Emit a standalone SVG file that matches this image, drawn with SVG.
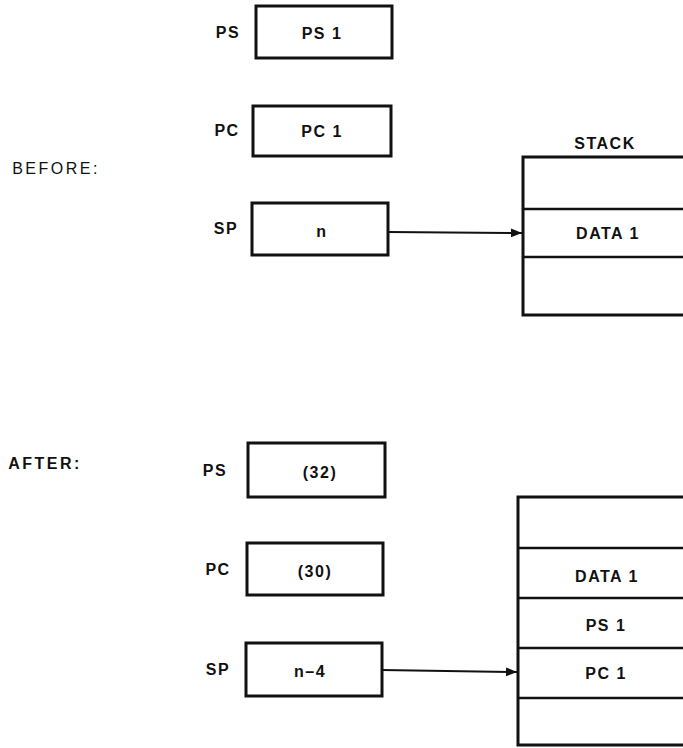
<svg xmlns="http://www.w3.org/2000/svg" width="683" height="748" viewBox="0 0 683 748">
<style>
text{font-family:"Liberation Sans",Arial,sans-serif;font-size:16px;font-weight:bold;fill:#111;text-anchor:middle;dominant-baseline:central;letter-spacing:1.5px}
.box{fill:#fff;stroke:#111;stroke-width:3}
.div{stroke:#111;stroke-width:2.5}
.con{stroke:#111;stroke-width:2;fill:none}
</style>
<defs>
<marker id="ah" viewBox="0 0 10 10" refX="10" refY="5" markerWidth="5.5" markerHeight="5.5" orient="auto" markerUnits="strokeWidth">
<path d="M0,1 L10,5 L0,9 z" fill="#111"/>
</marker>
</defs>
<rect width="683" height="748" fill="#fff"/>
<text x="56" y="168" style="font-weight:normal;letter-spacing:2.5px">BEFORE:</text>
<text x="45" y="463" style="letter-spacing:2.5px">AFTER:</text>

<g id="before-ps"><text x="228" y="32">PS</text><rect class="box" x="256" y="6" width="136" height="52"/><text x="322" y="33">PS 1</text></g>
<g id="before-pc"><text x="227" y="130">PC</text><rect class="box" x="253" y="106" width="138" height="50"/><text x="322" y="131">PC 1</text></g>
<g id="before-sp"><text x="226" y="228">SP</text><rect class="box" x="252" y="203" width="136" height="52"/><text x="322" y="231">n</text></g>
<g id="before-stack">
<text x="605" y="143">STACK</text>
<rect class="box" x="523" y="157" width="200" height="158"/>
<line class="div" x1="523" y1="209" x2="683" y2="209"/>
<line class="div" x1="523" y1="257" x2="683" y2="257"/>
<text x="608" y="233">DATA 1</text>
</g>

<g id="after-ps"><text x="215" y="470">PS</text><rect class="box" x="248" y="443" width="137" height="54"/><text x="320" y="472">(32)</text></g>
<g id="after-pc"><text x="218" y="569">PC</text><rect class="box" x="247" y="543" width="136" height="52"/><text x="315" y="571">(30)</text></g>
<g id="after-sp"><text x="218" y="669">SP</text><rect class="box" x="246" y="643" width="136" height="53"/><text x="310" y="671">n–4</text></g>
<g id="after-stack">
<rect class="box" x="518" y="497" width="200" height="248"/>
<line class="div" x1="518" y1="548" x2="683" y2="548"/>
<line class="div" x1="518" y1="598" x2="683" y2="598"/>
<line class="div" x1="518" y1="648" x2="683" y2="648"/>
<line class="div" x1="518" y1="698" x2="683" y2="698"/>
<text x="607" y="576">DATA 1</text>
<text x="606" y="625">PS 1</text>
<text x="606" y="673">PC 1</text>
</g>

<g id="connectors">
<line class="con" x1="388" y1="232" x2="522" y2="233" marker-end="url(#ah)"/>
<line class="con" x1="382" y1="670" x2="517" y2="672" marker-end="url(#ah)"/>
</g>
</svg>
